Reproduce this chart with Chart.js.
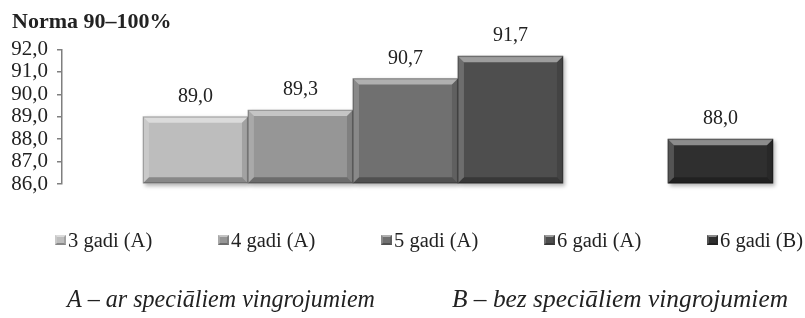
<!DOCTYPE html>
<html>
<head>
<meta charset="utf-8">
<script src="https://cdn.jsdelivr.net/npm/chart.js@4/dist/chart.umd.min.js"></script>
<style>
  html, body { margin: 0; padding: 0; background: #ffffff; }
  #wrap { width: 805px; height: 318px; position: relative; }
</style>
</head>
<body>
<div id="wrap"><canvas id="c" width="805" height="318"></canvas></div>
<script>
// ---- data ----
const titleText = 'Norma 90–100%';
const categories = ['3 gadi (A)', '4 gadi (A)', '5 gadi (A)', '6 gadi (A)', '', '6 gadi (B)'];
const values = [89.0, 89.3, 90.7, 91.7, null, 88.0];
const barColors = ['#bdbdbd', '#969696', '#707070', '#4e4e4e', '#ffffff', '#2f2f2f'];
const yTicks = [86, 87, 88, 89, 90, 91, 92];
const footnotes = ['A – ar speciāliem vingrojumiem', 'B – bez speciāliem vingrojumiem'];

const SERIF = '"Liberation Serif", "Times New Roman", serif';
const fmt = v => v.toFixed(1).replace('.', ',');

const points = categories.map((c, i) => ({ x: i, y: values[i] }));

function bevel(ctx, l, t, r, b, bw, outline) {
  const p = (pts, color) => {
    ctx.beginPath();
    ctx.moveTo(pts[0][0], pts[0][1]);
    for (let k = 1; k < pts.length; k++) ctx.lineTo(pts[k][0], pts[k][1]);
    ctx.closePath();
    ctx.fillStyle = color;
    ctx.fill();
  };
  p([[l, t], [r, t], [r - bw, t + bw], [l + bw, t + bw]], 'rgba(255,255,255,0.45)');
  p([[l, t], [l + bw, t + bw], [l + bw, b - bw], [l, b]], 'rgba(255,255,255,0.18)');
  p([[r, t], [r, b], [r - bw, b - bw], [r - bw, t + bw]], 'rgba(0,0,0,0.14)');
  p([[l, b], [r, b], [r - bw, b - bw], [l + bw, b - bw]], 'rgba(0,0,0,0.28)');
  if (outline) {
    ctx.strokeStyle = 'rgba(0,0,0,0.22)';
    ctx.lineWidth = 1;
    ctx.strokeRect(l + 0.5, t + 0.5, r - l - 1, b - t - 1);
  }
}

const shadowPlugin = {
  id: 'shadow',
  beforeDatasetDraw(chart) {
    const ctx = chart.ctx;
    ctx.save();
    ctx.shadowColor = 'rgba(0,0,0,0.3)';
    ctx.shadowBlur = 4;
    ctx.shadowOffsetX = 2;
    ctx.shadowOffsetY = 2;
  },
  afterDatasetDraw(chart) {
    chart.ctx.restore();
  }
};

const decorPlugin = {
  id: 'decor',
  afterDatasetsDraw(chart) {
    const ctx = chart.ctx;
    const meta = chart.getDatasetMeta(0);
    ctx.save();
    meta.data.forEach((el, i) => {
      if (values[i] == null) return;
      const { x, y, base, width } = el.getProps(['x', 'y', 'base', 'width'], true);
      bevel(ctx, x - width / 2, y, x + width / 2, base, 6, true);
      ctx.fillStyle = '#222222';
      ctx.font = '20px ' + SERIF;
      ctx.textAlign = 'center';
      ctx.textBaseline = 'alphabetic';
      ctx.fillText(fmt(values[i]), x, y - 15);
    });
    ctx.restore();
  },
  afterDraw(chart) {
    const ctx = chart.ctx;
    ctx.save();
    // legend
    let k = 0;
    categories.forEach((c, i) => {
      if (values[i] == null) return;
      const lx = 55 + k * 163;
      const ly = 235;
      ctx.fillStyle = barColors[i];
      ctx.fillRect(lx, ly, 11, 10);
      bevel(ctx, lx, ly, lx + 11, ly + 10, 2, false);
      ctx.fillStyle = '#222222';
      ctx.font = '20.5px ' + SERIF;
      ctx.textAlign = 'left';
      ctx.textBaseline = 'alphabetic';
      ctx.fillText(c, lx + 13, 247);
      k++;
    });
    // footnotes
    ctx.font = 'italic 25px ' + SERIF;
    ctx.fillStyle = '#222222';
    ctx.textBaseline = 'alphabetic';
    ctx.textAlign = 'left';
    const targets = [[67, 375], [452, 788]];
    footnotes.forEach((t, j) => {
      const w = ctx.measureText(t).width;
      const sx = (targets[j][1] - targets[j][0]) / w;
      ctx.save();
      ctx.translate(targets[j][0], 307);
      ctx.scale(sx, 1);
      ctx.fillText(t, 0, 0);
      ctx.restore();
    });
    ctx.restore();
  }
};

new Chart(document.getElementById('c'), {
  type: 'bar',
  data: {
    datasets: [{
      data: points,
      backgroundColor: barColors,
      borderWidth: 0,
      categoryPercentage: 1,
      barPercentage: 1,
      base: yTicks[0],
      clip: false
    }]
  },
  options: {
    responsive: false,
    animation: false,
    devicePixelRatio: 1,
    layout: { padding: { left: 12, right: 10, top: 0, bottom: 134 } },
    plugins: {
      legend: { display: false },
      tooltip: { enabled: false },
      title: {
        display: true,
        text: titleText,
        align: 'start',
        color: '#222222',
        font: { family: SERIF, size: 22, weight: 'bold' },
        padding: { top: 9, bottom: 14 }
      }
    },
    scales: {
      x: {
        type: 'linear',
        display: false,
        offset: false,
        min: -1.271,
        max: 5.71,
        ticks: { stepSize: 1, includeBounds: false }
      },
      y: {
        min: yTicks[0],
        max: yTicks[yTicks.length - 1],
        afterFit: s => { s.width = 50; },
        afterBuildTicks: s => { s.ticks = yTicks.map(v => ({ value: v })); },
        ticks: {
          stepSize: 1,
          autoSkip: false,
          padding: 9,
          color: '#222222',
          font: { family: SERIF, size: 21 },
          callback: v => fmt(v)
        },
        grid: { drawOnChartArea: false, drawTicks: true, tickLength: 5, color: '#7f7f7f', lineWidth: 1.5 },
        border: { display: true, color: '#7f7f7f', width: 1.5 }
      }
    }
  },
  plugins: [shadowPlugin, decorPlugin]
});
</script>
</body>
</html>
